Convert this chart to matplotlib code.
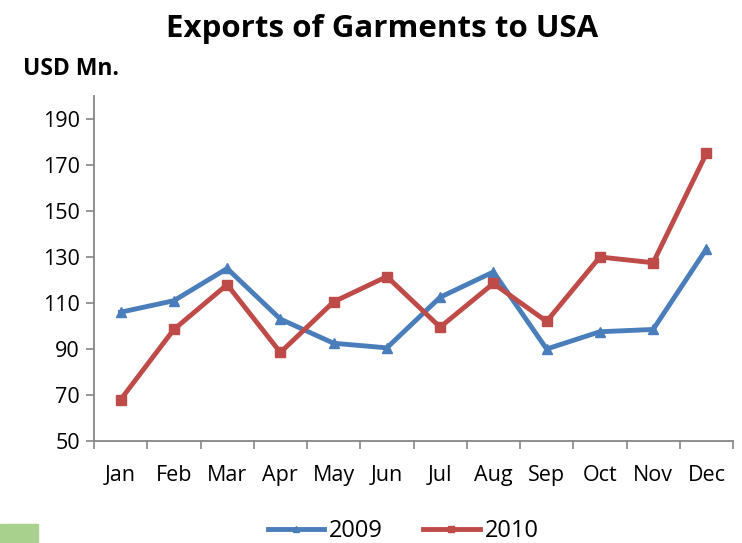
import matplotlib
matplotlib.use('Agg')
import matplotlib.pyplot as plt
from matplotlib.patches import Rectangle
import numpy as np

# Monthly garment exports to the USA (USD Mn.)
months = ['Jan', 'Feb', 'Mar', 'Apr', 'May', 'Jun',
          'Jul', 'Aug', 'Sep', 'Oct', 'Nov', 'Dec']
exports_2009 = [106, 111, 125, 103, 92.5, 90.5, 112.5, 123.5, 90, 97.5, 98.5, 133.5]
exports_2010 = [68, 98.5, 118, 88.5, 110.5, 121.5, 99.5, 118.5, 102, 130, 127.5, 175]
y_ticks = [50, 70, 90, 110, 130, 150, 170, 190]

plt.rcParams['font.family'] = ['Open Sans', 'DejaVu Sans']

fig = plt.figure(figsize=(7.42, 5.43), dpi=100)
ax = fig.add_axes([94 / 742, 1 - 441 / 543, 639 / 742, 345 / 543])

x = np.arange(len(months))
ax.plot(x, exports_2009, color='#4a7ebb', lw=3.5, marker='^', ms=7.5,
        label='2009', solid_joinstyle='round')
ax.plot(x, exports_2010, color='#be4b48', lw=3.5, marker='s', ms=6.5,
        label='2010', solid_joinstyle='round')

ax.set_xlim(-0.5, len(months) - 0.5)
ax.set_ylim(50, 200)
ax.set_yticks(y_ticks)
ax.set_xticks(x)
ax.set_xticklabels(months)
ax.set_xticks(np.arange(-0.5, len(months), 1), minor=True)

ax.tick_params(axis='x', which='major', length=0, pad=17, labelsize=15.5)
ax.tick_params(axis='x', which='minor', length=6, width=1.2, color='#868686',
               direction='out')
ax.tick_params(axis='y', length=6, width=1.2, color='#868686', direction='out',
               pad=4, labelsize=15.5)

for side in ['top', 'right']:
    ax.spines[side].set_visible(False)
for side in ['left', 'bottom']:
    ax.spines[side].set_color('#868686')
    ax.spines[side].set_linewidth(1.3)

fig.text(382 / 742, 1 - 29 / 543, 'Exports of Garments to USA', ha='center',
         va='center', fontsize=22.5, fontweight='bold')
fig.text(23 / 742, 1 - 69 / 543, 'USD Mn.', ha='left', va='center',
         fontsize=16.5, fontweight='bold')

fig.legend(loc='center', bbox_to_anchor=(403 / 742, 1 - 531 / 543), ncol=2,
           frameon=False, fontsize=17, handlelength=2.4, columnspacing=1.7,
           handletextpad=0.2, markerscale=0.6)

# green tab in the lower-left corner
fig.patches.append(Rectangle((0, 0), 38 / 742, 19 / 543, transform=fig.transFigure,
                             color='#a9d18e', zorder=0))

fig.savefig('out.png', dpi=100)
